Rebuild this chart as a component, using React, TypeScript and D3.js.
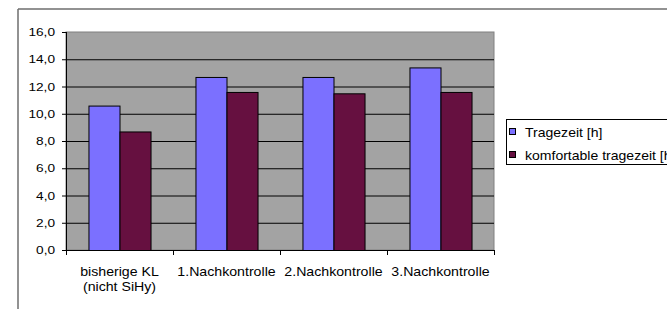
import * as d3 from 'd3'

const categories = ['bisherige KL\n(nicht SiHy)', '1.Nachkontrolle', '2.Nachkontrolle', '3.Nachkontrolle']
const seriesNames = ['Tragezeit [h]', 'komfortable tragezeit [h]']
const tragezeit = [10.6, 12.7, 12.7, 13.4]
const komfortabel = [8.7, 11.6, 11.5, 11.6]
const yTicks = [0, 2, 4, 6, 8, 10, 12, 14, 16]
const colors = ['#7b70ff', '#661040']

const W = 667
const H = 309
const plot = { left: 66, right: 494, top: 32, bottom: 250 }
const font = '"Liberation Sans", Arial, sans-serif'

export default function App() {
  const x0 = d3.scaleBand<string>()
    .domain(categories)
    .range([plot.left, plot.right])
    .paddingInner(0.42)
    .paddingOuter(0.21)
  const x1 = d3.scaleBand<number>()
    .domain([0, 1])
    .range([0, x0.bandwidth()])
  const y = d3.scaleLinear().domain([0, 16]).range([plot.bottom, plot.top])
  const step = x0.step()
  const values = [tragezeit, komfortabel]
  const fmt = (v: number) => v.toFixed(1).replace('.', ',')

  return (
    <svg width={W} height={H} style={{ position: 'absolute', left: 0, top: 0 }}>
      <rect x={0} y={0} width={W} height={H} fill="#fff" />
      {/* outer chart frame */}
      <line x1={18} x2={W} y1={9} y2={9} stroke="#6e6e6e" strokeWidth={1.5} />
      <line x1={18} x2={18} y1={9} y2={H} stroke="#6e6e6e" strokeWidth={1.5} />

      {/* plot area */}
      <rect x={plot.left} y={plot.top} width={plot.right - plot.left} height={plot.bottom - plot.top}
        fill="#a3a3a3" stroke="#808080" strokeWidth={1} />

      {/* grid lines */}
      {yTicks.filter(t => t > 0 && t < 16).map(t => (
        <line key={t} x1={plot.left} x2={plot.right} y1={y(t) + 0.5} y2={y(t) + 0.5} stroke="#000" strokeWidth={1} />
      ))}

      {/* bars */}
      {categories.map((c, i) => (
        <g key={c} transform={`translate(${x0(c)},0)`}>
          {values.map((s, j) => (
            <rect key={j}
              x={(x1(j) ?? 0) + 0.5}
              y={y(s[i]) + 0.5}
              width={x1.bandwidth()}
              height={y(0) - y(s[i])}
              fill={colors[j]}
              stroke="#000"
              strokeWidth={1} />
          ))}
        </g>
      ))}

      {/* y axis */}
      <line x1={plot.left + 0.5} x2={plot.left + 0.5} y1={plot.top} y2={plot.bottom + 1} stroke="#000" />
      {yTicks.map(t => (
        <g key={t}>
          <line x1={plot.left - 4} x2={plot.left} y1={y(t) + 0.5} y2={y(t) + 0.5} stroke="#000" />
          <text transform={`translate(55,${y(t) + 4}) scale(1.3,1)`} textAnchor="end"
            fontFamily={font} fontSize={10.5} fill="#000">{fmt(t)}</text>
        </g>
      ))}

      {/* x axis */}
      <line x1={plot.left} x2={plot.right} y1={plot.bottom + 0.5} y2={plot.bottom + 0.5} stroke="#000" />
      {d3.range(categories.length + 1).map(k => (
        <line key={k} x1={plot.left + k * step + 0.5} x2={plot.left + k * step + 0.5}
          y1={plot.bottom} y2={plot.bottom + 5} stroke="#000" />
      ))}
      {categories.map(c => {
        const cx = (x0(c) ?? 0) + x0.bandwidth() / 2
        return c.split('\n').map((ln, k) => (
          <text key={c + k} transform={`translate(${cx},${276 + k * 15}) scale(1.18,1)`} textAnchor="middle"
            fontFamily={font} fontSize={12} fill="#000">{ln}</text>
        ))
      })}

      {/* legend */}
      <rect x={506.5} y={119.5} width={200} height={45} fill="#fff" stroke="#000" strokeWidth={1} />
      {seriesNames.map((n, j) => (
        <g key={n} transform={`translate(509,${128 + j * 23})`}>
          <rect x={0.5} y={0.5} width={6} height={6} fill={colors[j]} stroke="#000" strokeWidth={1} />
          <text transform={`translate(16,8.5) scale(1.17,1)`} fontFamily={font} fontSize={12} fill="#000">{n}</text>
        </g>
      ))}
    </svg>
  )
}
